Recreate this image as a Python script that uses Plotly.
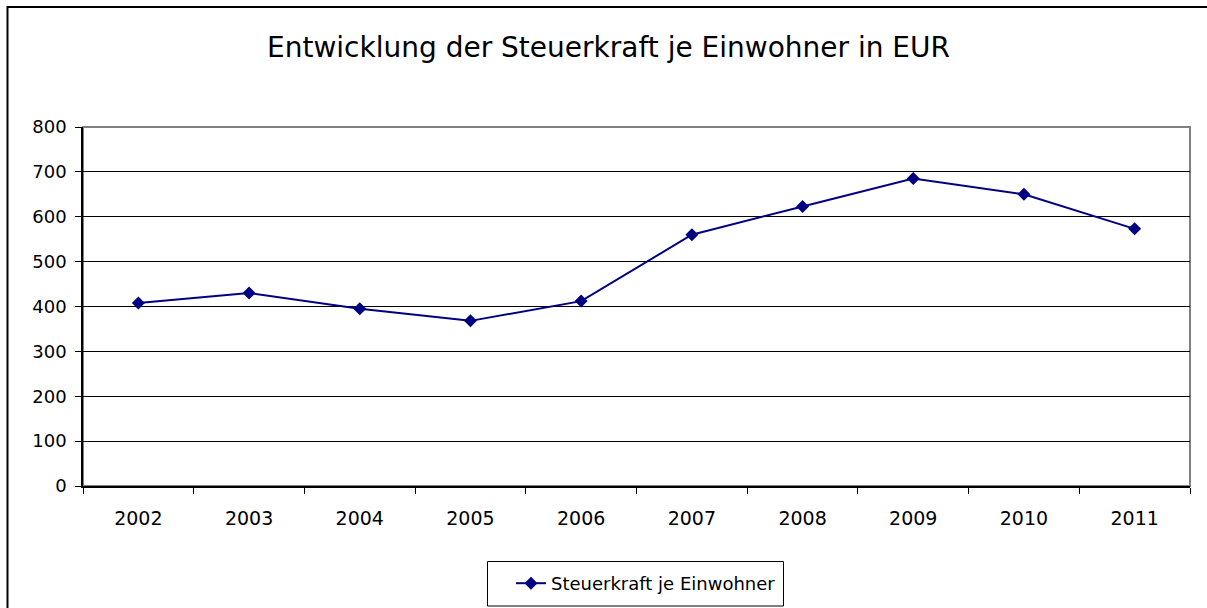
import plotly.graph_objects as go

years = ["2002", "2003", "2004", "2005", "2006", "2007", "2008", "2009", "2010", "2011"]
values = [408, 430, 395, 368, 412, 560, 623, 685, 650, 573]
series_name = "Steuerkraft je Einwohner"
title_text = "Entwicklung der Steuerkraft je Einwohner in EUR"

W, H = 1207, 608
L, R, T, B = 83, 1190, 127, 486

FONT = "DejaVu Sans"
NAVY = "#000080"

fig = go.Figure()
fig.add_trace(go.Scatter(
    x=years, y=values, name=series_name, mode="lines+markers",
    line=dict(color=NAVY, width=2),
    marker=dict(symbol="diamond", size=10, color=NAVY),
    showlegend=True,
))

def px_x(p):
    return (p - L) / (R - L)

def px_y(p):
    return (B - p) / (B - T)

shapes = [
    # outer chart border
    dict(type="rect", xref="paper", yref="paper",
         x0=px_x(7.5), x1=px_x(1215), y0=px_y(640), y1=px_y(7),
         line=dict(color="black", width=2), layer="below"),
    # plot area border
    dict(type="rect", xref="paper", yref="paper", x0=0, x1=1, y0=0, y1=1,
         line=dict(color="#808080", width=2), layer="below"),
    # legend box
    dict(type="rect", xref="paper", yref="paper",
         x0=px_x(487.5), x1=px_x(783.5), y0=px_y(606), y1=px_y(561.5),
         line=dict(color="black", width=1), layer="below"),
]

fig.update_layout(
    width=W, height=H,
    margin=dict(l=L, r=W - R, t=T, b=H - B),
    paper_bgcolor="white", plot_bgcolor="white",
    font=dict(family=FONT, color="black", size=18),
    title=dict(text=title_text, x=608.5 / W, xref="container", xanchor="center",
               y=1 - 47 / H, yanchor="middle", yref="container",
               font=dict(family=FONT, size=28, color="black")),
    xaxis=dict(type="category", tickson="boundaries", ticks="outside", ticklen=6,
               tickcolor="black", showline=True, linecolor="black", linewidth=1.5,
               showgrid=False, tickfont=dict(size=19), range=[-0.5, 9.5],
               ticklabelstandoff=14),
    yaxis=dict(range=[0, 800], dtick=100, ticks="outside", ticklen=6, tickcolor="black",
               showline=True, linecolor="black", linewidth=1.5,
               showgrid=True, gridcolor="black", gridwidth=1, zeroline=False,
               tickfont=dict(size=18), ticklabelstandoff=5),
    legend=dict(orientation="h", xref="container", yref="container",
                x=646 / W, xanchor="center",
                y=1 - 583.5 / H, yanchor="middle",
                borderwidth=0, bgcolor="rgba(0,0,0,0)",
                font=dict(size=18, family=FONT)),
    shapes=shapes,
)

fig.write_html("out.html", config={"displayModeBar": False},
               post_script="document.body.style.margin='0';document.body.style.overflow='hidden';")
